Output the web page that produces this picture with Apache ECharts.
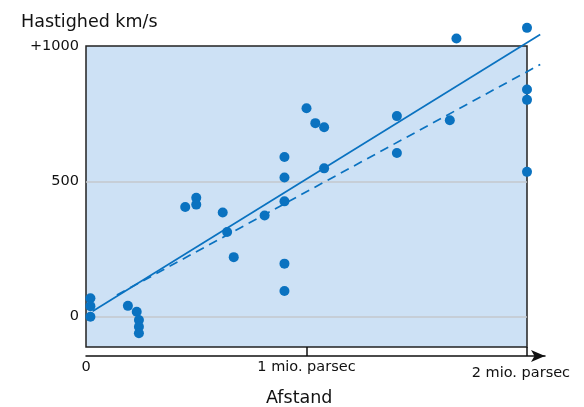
<!DOCTYPE html>
<html>
<head>
<meta charset="utf-8">
<script src="https://cdn.jsdelivr.net/npm/echarts@6/dist/echarts.min.js"></script>
<style>
  html, body { margin: 0; padding: 0; background: #fff; }
  #main { width: 584px; height: 407px; }
</style>
</head>
<body>
<div id="main"></div>
<script>
// afstand i mio. parsec og hastighed i km/s
var distance = [0.02, 0.02, 0.02, 0.19, 0.23, 0.24, 0.24, 0.24,
  0.45, 0.50, 0.50, 0.62, 0.64, 0.67, 0.81,
  0.90, 0.90, 0.90, 0.90, 0.90, 1.00, 1.04, 1.08, 1.08,
  1.41, 1.41, 1.65, 1.68, 2.00, 2.00, 2.00, 2.00];
var velocity = [68, 39, 0, 40, 18, -12, -37, -61,
  405, 439, 414, 385, 313, 220, 374,
  590, 514, 426, 196, 95, 770, 715, 700, 548,
  741, 605, 726, 1028, 1067, 839, 801, 535];
// to rette linjer (fuldt optrukket og stiplet)
var solidLine = [[0.03, 20], [2.06, 1043]];
var dashedLine = [[0.14, 80], [2.06, 932]];
var yTicks = [0, 500, 1000];
var xTicks = [0, 1, 2];
var xTickNames = ['0', '1 mio. parsec', '2 mio. parsec'];

var points = distance.map(function (d, i) { return [d, velocity[i]]; });
var blue = '#0a72c0';
var font = '"DejaVu Sans", sans-serif';

var myChart = echarts.init(document.getElementById('main'));
myChart.setOption({
  animation: false,
  textStyle: { fontFamily: font },
  title: [{
    text: 'Hastighed km/s',
    left: 16, top: 8,
    textStyle: { fontSize: 17.5, fontWeight: 'normal', color: '#111', fontFamily: font }
  }, {
    text: 'Afstand',
    left: 261, top: 384,
    textStyle: { fontSize: 17.5, fontWeight: 'normal', color: '#111', fontFamily: font }
  }],
  grid: [{
    left: 86, right: 57, top: 46, bottom: 60,
    show: true,
    backgroundColor: '#cde1f5',
    borderColor: '#222',
    borderWidth: 1.5
  }, {
    left: 86, right: 39, top: 346, bottom: 51
  }, {
    // samme skala som plottet, men bredere og højere, så linjerne kan gå ud over kassen
    left: 86, right: 44, top: 19, bottom: 60
  }],
  xAxis: [{
    gridIndex: 0, type: 'value', min: 0, max: 2,
    axisLine: { show: false }, axisTick: { show: false },
    axisLabel: { show: false }, splitLine: { show: false }
  }, {
    gridIndex: 1, type: 'value', min: 0, max: 2.082,
    axisLine: {
      show: true, onZero: false,
      symbol: ['none', 'arrow'], symbolSize: [9, 14],
      lineStyle: { color: '#111', width: 1.5 }
    },
    axisTick: {
      show: true, inside: true, length: 9, customValues: [1, 2],
      lineStyle: { color: '#111', width: 1.5 }
    },
    axisLabel: {
      customValues: xTicks, margin: 4,
      fontSize: 14.5, color: '#111', fontFamily: font,
      formatter: function (v) {
        var i = xTicks.indexOf(v);
        if (i < 0) return '';
        if (i === 2) return '{r|' + xTickNames[i] + '}';
        return xTickNames[i];
      },
      rich: { r: { fontSize: 14.5, color: '#111', fontFamily: font, padding: [6, 12, 0, 0] } }
    },
    splitLine: { show: false }
  }, {
    gridIndex: 2, type: 'value', min: 0, max: 2.059, show: false
  }],
  yAxis: [{
    gridIndex: 0, type: 'value', min: -112, max: 1000,
    axisLine: { show: false },
    axisTick: { show: false, customValues: [0, 500] },
    axisLabel: {
      customValues: yTicks, margin: 7,
      fontSize: 14.5, color: '#111', fontFamily: font,
      formatter: function (v) { return v === 1000 ? '+1000' : String(v); }
    },
    splitLine: { show: true, lineStyle: { color: '#c3c7cc', width: 1.5 } }
  }, {
    gridIndex: 1, type: 'value', show: false
  }, {
    gridIndex: 2, type: 'value', min: -112, max: 1100, show: false
  }],
  series: [{
    type: 'line',
    data: solidLine,
    xAxisIndex: 2, yAxisIndex: 2,
    clip: false, symbol: 'none',
    lineStyle: { color: blue, width: 1.7 }
  }, {
    type: 'line',
    data: dashedLine,
    xAxisIndex: 2, yAxisIndex: 2,
    clip: false, symbol: 'none',
    lineStyle: { color: blue, width: 1.7, type: [9, 6] }
  }, {
    type: 'scatter',
    data: points,
    xAxisIndex: 0, yAxisIndex: 0,
    clip: false,
    symbolSize: 10,
    itemStyle: { color: blue, opacity: 1 }
  }]
});
</script>
</body>
</html>
